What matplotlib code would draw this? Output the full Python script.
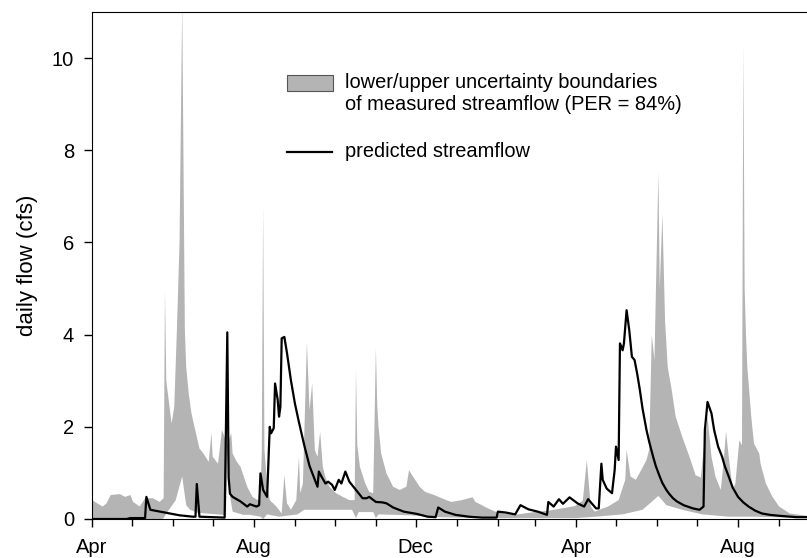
import numpy as np
import matplotlib
matplotlib.use('Agg')
import matplotlib.pyplot as plt
import matplotlib.dates as mdates
from matplotlib.patches import Rectangle
from matplotlib.lines import Line2D

plt.rcParams['font.family'] = ['Liberation Sans', 'DejaVu Sans']

START = np.datetime64('2005-04-01')

# predicted streamflow (days after start, cfs)
pred_day = [0, 26, 29, 40, 41, 44, 57, 66, 76, 78, 79, 81, 100, 102, 103, 104, 106, 112, 117,
            119, 124, 126, 127, 129, 132, 134, 135, 137, 138, 140, 141, 142, 143, 145, 147,
            150, 153, 156, 160, 164, 168, 170, 171, 173, 176, 178, 181, 183, 186, 188, 191,
            194, 199, 204, 207, 209, 214, 219, 222, 227, 235, 245, 253, 259, 261, 266, 274,
            284, 294, 305, 306, 312, 319, 323, 329, 336, 343, 344, 348, 352, 355, 360, 366,
            371, 374, 380, 382, 384, 385, 388, 392, 394, 395, 397, 398, 400, 401, 403, 405,
            407, 409, 411, 413, 415, 418, 420, 423, 425, 428, 430, 433, 435, 438, 441, 446,
            453, 458, 461, 462, 464, 467, 469, 472, 475, 477, 480, 483, 487, 491, 495, 500,
            505, 511, 518, 531, 539]
pred_flow = [0.0, 0.0, 0.02, 0.02, 0.48, 0.2, 0.13, 0.08, 0.05, 0.05, 0.76, 0.05, 0.03, 4.05,
             0.9, 0.55, 0.48, 0.38, 0.27, 0.32, 0.27, 0.3, 0.99, 0.63, 0.48, 2.0, 1.86, 1.97,
             2.94, 2.58, 2.22, 2.43, 3.92, 3.95, 3.6, 3.0, 2.5, 2.1, 1.6, 1.15, 0.85, 0.7,
             1.03, 0.92, 0.77, 0.81, 0.74, 0.63, 0.85, 0.77, 1.03, 0.81, 0.63, 0.45, 0.45,
             0.48, 0.37, 0.36, 0.34, 0.25, 0.16, 0.11, 0.05, 0.04, 0.25, 0.16, 0.09, 0.05,
             0.03, 0.03, 0.16, 0.14, 0.1, 0.3, 0.21, 0.16, 0.09, 0.37, 0.27, 0.43, 0.33, 0.47,
             0.34, 0.27, 0.43, 0.23, 0.23, 1.2, 0.85, 0.66, 0.56, 1.06, 1.57, 1.28, 3.81, 3.66,
             3.81, 4.53, 4.1, 3.52, 3.45, 3.15, 2.8, 2.4, 1.93, 1.68, 1.35, 1.15, 0.92, 0.78,
             0.63, 0.55, 0.45, 0.38, 0.3, 0.23, 0.2, 0.27, 1.93, 2.54, 2.29, 1.93, 1.57, 1.35,
             1.15, 0.92, 0.68, 0.48, 0.36, 0.27, 0.18, 0.12, 0.09, 0.07, 0.04, 0.04]

# upper uncertainty boundary of measured streamflow
up_day = [0, 8, 11, 14, 21, 25, 29, 31, 36, 40, 46, 51, 54, 55, 56, 60, 62, 64, 66, 68, 70,
          71, 73, 75, 79, 81, 84, 88, 90, 91, 95, 98, 100, 102, 105, 106, 109, 112, 117, 121,
          125, 127, 128, 129, 130, 132, 134, 139, 143, 145, 147, 150, 154, 156, 157, 159, 162,
          164, 166, 168, 170, 172, 174, 176, 179, 184, 189, 194, 198, 199, 200, 202, 206, 209,
          212, 214, 215, 216, 218, 222, 227, 232, 237, 239, 242, 247, 251, 258, 267, 271, 279,
          284, 287, 289, 294, 297, 304, 311, 319, 326, 336, 344, 354, 364, 370, 373, 376, 379,
          389, 397, 402, 403, 406, 410, 414, 418, 420, 422, 424, 427, 428, 430, 432, 434, 437,
          440, 445, 451, 455, 459, 461, 463, 464, 467, 470, 474, 476, 478, 480, 483, 485, 488,
          490, 491, 492, 493, 494, 497, 499, 503, 504, 508, 513, 518, 526, 539]
up_flow = [0.41, 0.27, 0.34, 0.52, 0.54, 0.48, 0.52, 0.37, 0.27, 0.45, 0.45, 0.37, 0.45, 4.96,
           3.0, 2.07, 2.43, 4.1, 6.0, 11.2, 4.1, 3.3, 2.7, 2.29, 1.78, 1.53, 1.42, 1.24, 1.86,
           1.35, 1.2, 1.93, 1.78, 1.6, 1.86, 1.42, 1.25, 1.13, 0.7, 0.48, 0.41, 0.41, 1.5,
           6.77, 1.5, 0.77, 0.41, 0.27, 0.12, 0.95, 0.34, 0.2, 0.41, 1.35, 0.56, 0.77, 3.84,
           2.36, 2.94, 1.5, 1.35, 1.89, 1.13, 0.9, 0.7, 0.56, 0.48, 0.41, 0.41, 3.23, 1.6,
           1.13, 0.77, 0.59, 0.56, 3.7, 2.5, 2.0, 1.42, 0.99, 0.7, 0.63, 0.7, 1.06, 0.92, 0.7,
           0.59, 0.52, 0.41, 0.37, 0.41, 0.45, 0.47, 0.37, 0.3, 0.25, 0.16, 0.12, 0.09, 0.12,
           0.16, 0.18, 0.23, 0.28, 0.4, 1.28, 0.27, 0.16, 0.27, 0.41, 0.85, 1.5, 0.92, 0.85,
           1.06, 1.28, 1.5, 3.99, 3.45, 7.53, 5.0, 6.62, 4.3, 3.3, 2.8, 2.22, 1.78, 1.3, 0.95,
           0.9, 1.5, 1.93, 2.22, 1.35, 0.92, 0.63, 1.2, 1.89, 1.35, 0.63, 0.77, 1.71, 1.6,
           10.3, 5.0, 4.0, 3.3, 2.22, 1.64, 1.42, 1.2, 0.77, 0.48, 0.27, 0.12, 0.07]

# lower uncertainty boundary of measured streamflow
lo_day = [0, 53, 54, 56, 63, 68, 71, 74, 79, 86, 99, 101, 102, 104, 106, 114, 119, 127, 129,
          132, 141, 155, 160, 196, 199, 201, 212, 214, 216, 240, 260, 300, 365, 380, 400, 415,
          427, 433, 445, 460, 480, 500, 539]
lo_flow = [0.0, 0.0, 0.02, 0.12, 0.4, 0.92, 0.3, 0.2, 0.14, 0.12, 0.09, 0.1, 1.42, 0.5, 0.16,
           0.09, 0.09, 0.05, 0.0, 0.1, 0.05, 0.1, 0.2, 0.2, 0.02, 0.15, 0.15, 0.02, 0.1, 0.08,
           0.04, 0.02, 0.02, 0.05, 0.1, 0.2, 0.5, 0.3, 0.2, 0.1, 0.05, 0.05, 0.02]

pred_t = START + np.array(pred_day).astype('timedelta64[D]')
up_t = START + np.array(up_day).astype('timedelta64[D]')
lo_t = START + np.array(lo_day).astype('timedelta64[D]')

band_gray = '#b4b4b4'

fig = plt.figure(figsize=(8.07, 5.58), dpi=100)
ax = fig.add_axes([92 / 807, 1 - 519 / 558, 715 / 807, 507 / 558])

poly_t = np.concatenate([up_t, lo_t[::-1]])
poly_q = np.concatenate([np.array(up_flow), np.array(lo_flow)[::-1]])
ax.fill(poly_t, poly_q, color=band_gray, lw=0, zorder=1)
ax.plot(pred_t, pred_flow, color='black', lw=1.6, zorder=3)

ax.set_xlim(START, START + np.timedelta64(539, 'D'))
ax.set_ylim(0, 11)
ax.set_yticks([0, 2, 4, 6, 8, 10])
ax.xaxis.set_major_locator(mdates.MonthLocator(bymonth=[4, 8, 12]))
ax.xaxis.set_minor_locator(mdates.MonthLocator())
ax.xaxis.set_major_formatter(mdates.DateFormatter('%b'))
ax.tick_params(axis='both', which='major', direction='out', length=6, width=1,
               labelsize=14.5)
ax.tick_params(axis='x', which='major', pad=8)
ax.tick_params(axis='y', which='major', pad=7)
ax.tick_params(axis='x', which='minor', direction='out', length=5, width=1)
ax.spines['right'].set_visible(False)
ax.set_ylabel('daily flow (cfs)', fontsize=16, labelpad=10)

# legend drawn by hand so the patch lines up with the first text line
ax.add_patch(Rectangle((0.2723, 0.8448), 0.0652, 0.0303, transform=ax.transAxes,
                       facecolor=band_gray, edgecolor='#555555', lw=0.8, zorder=5))
ax.text(0.3538, 0.860, 'lower/upper uncertainty boundaries', transform=ax.transAxes,
        fontsize=14.4, va='center', ha='left')
ax.text(0.3538, 0.8166, 'of measured streamflow (PER = 84%)', transform=ax.transAxes,
        fontsize=14.4, va='center', ha='left')
ax.add_line(Line2D([0.2723, 0.3352], [0.7239, 0.7239], transform=ax.transAxes,
                   color='black', lw=1.6, zorder=5))
ax.text(0.3538, 0.7239, 'predicted streamflow', transform=ax.transAxes,
        fontsize=14.4, va='center', ha='left')

fig.savefig('out.png', dpi=100)
